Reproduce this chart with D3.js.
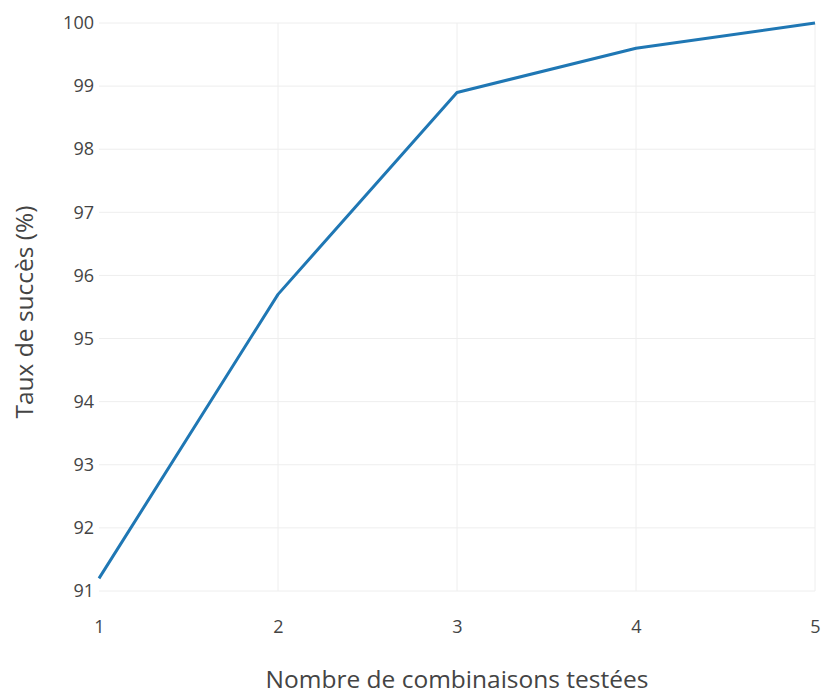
<!DOCTYPE html>
<meta charset="utf-8">
<head>
<style>
body { margin: 0; background: #fff; }
text { font-family: "Open Sans", sans-serif; fill: #444; }
.grid line { stroke: #eee; stroke-width: 1; }
</style>
</head>
<body>
<script src="https://d3js.org/d3.v7.min.js"></script>
<svg id="chart" width="823" height="695"></svg>
<script>

// combinations tested vs success rate
var combinaisons = [1, 2, 3, 4, 5];
var tauxSucces = [91.2, 95.7, 98.9, 99.6, 100];
var xTicks = [1, 2, 3, 4, 5];
var yTicks = [91, 92, 93, 94, 95, 96, 97, 98, 99, 100];

var svg = d3.select("#chart"),
    margin = {top: 23, right: 8, bottom: 104, left: 99},
    width = +svg.attr("width") - margin.left - margin.right,
    height = +svg.attr("height") - margin.top - margin.bottom,
    g = svg.append("g").attr("transform", "translate(" + margin.left + "," + margin.top + ")");

var x = d3.scaleLinear().domain([1, 5]).range([0, width]);
var y = d3.scaleLinear().domain([91, 100]).range([height, 0]);

// grid
g.append("g").attr("class", "grid")
  .selectAll("line.h").data(yTicks).enter().append("line")
    .attr("x1", 0).attr("x2", width)
    .attr("y1", function(d) { return y(d); })
    .attr("y2", function(d) { return y(d); });

g.append("g").attr("class", "grid")
  .selectAll("line.v").data(xTicks.slice(1)).enter().append("line")
    .attr("y1", 0).attr("y2", height)
    .attr("x1", function(d) { return x(d); })
    .attr("x2", function(d) { return x(d); });

// axes (labels only)
var xAxis = g.append("g")
    .attr("transform", "translate(0," + height + ")")
    .call(d3.axisBottom(x).tickValues(xTicks).tickSize(0).tickPadding(29).tickFormat(d3.format("d")));
var yAxis = g.append("g")
    .call(d3.axisLeft(y).tickValues(yTicks).tickSize(0).tickPadding(5).tickFormat(d3.format("d")));

[xAxis, yAxis].forEach(function(a) {
  a.select(".domain").remove();
  a.selectAll("text").style("font-size", "18px").attr("fill", "#444");
});

// line
var line = d3.line()
    .x(function(d, i) { return x(combinaisons[i]); })
    .y(function(d) { return y(d); });

g.append("path")
    .datum(tauxSucces)
    .attr("fill", "none")
    .attr("stroke", "#1f77b4")
    .attr("stroke-width", 3)
    .attr("stroke-linejoin", "round")
    .attr("d", line);

// titles
svg.append("text")
    .attr("x", margin.left + width / 2)
    .attr("y", 688)
    .attr("text-anchor", "middle")
    .style("font-size", "24.5px")
    .text("Nombre de combinaisons testées");

svg.append("text")
    .attr("transform", "translate(33,312) rotate(-90)")
    .attr("text-anchor", "middle")
    .style("font-size", "24.5px")
    .text("Taux de succès (%)");
</script>
</body>
</html>
